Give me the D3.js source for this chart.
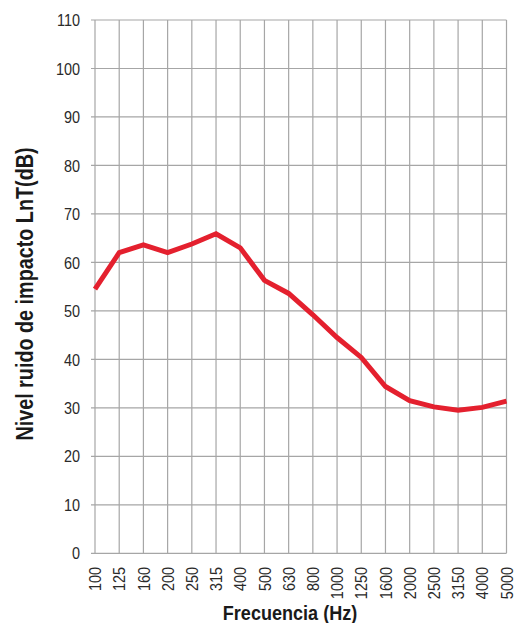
<!DOCTYPE html>
<html><head><meta charset="utf-8">
<script src="https://cdn.jsdelivr.net/npm/d3@7/dist/d3.min.js"></script>
<style>body{margin:0;background:#fff}svg{display:block}</style>
</head><body>
<svg id="c" width="515" height="623"></svg>
<script>
const frequencies = ["100","125","160","200","250","315","400","500","630","800","1000","1250","1600","2000","2500","3150","4000","5000"];
const lnT = [54.5,62,63.6,62,63.8,65.9,63,56.3,53.6,49.2,44.5,40.4,34.4,31.5,30.2,29.5,30.1,31.4];
const yTicks = [0,10,20,30,40,50,60,70,80,90,100,110];
const xTitle = "Frecuencia (Hz)";
const yTitle = "Nivel ruido de impacto LnT(dB)";

const font = "'Liberation Sans','Arial',sans-serif";
const svg = d3.select("#c");
const L = 95, R = 506.5, T = 20, B = 553.3;
const x = d3.scalePoint().domain(frequencies).range([L, R]);
const y = d3.scaleLinear().domain([0, 110]).range([B, T]);

// grid
svg.append("g").selectAll("line").data(yTicks).join("line")
  .attr("x1", L - 4).attr("x2", R).attr("y1", d => y(d)).attr("y2", d => y(d))
  .attr("stroke", "#a6a6a6").attr("stroke-width", 1.2);
svg.append("g").selectAll("line").data(frequencies).join("line")
  .attr("x1", d => x(d)).attr("x2", d => x(d)).attr("y1", T).attr("y2", B)
  .attr("stroke", "#a6a6a6").attr("stroke-width", 1.2);

// y labels
svg.append("g").selectAll("text").data(yTicks).join("text")
  .attr("transform", d => `translate(80,${y(d)}) scale(0.85,1)`)
  .attr("dy", "0.36em")
  .attr("text-anchor", "end").attr("font-family", font).attr("font-size", 17)
  .attr("fill", "#2a2a2a").text(d => d);

// x labels
svg.append("g").selectAll("text").data(frequencies).join("text")
  .attr("transform", d => `translate(${x(d)},567) rotate(-90) scale(0.85,1)`)
  .attr("dy", "0.36em").attr("text-anchor", "end")
  .attr("font-family", font).attr("font-size", 17).attr("fill", "#2a2a2a").text(d => d);

// line
svg.append("path").datum(lnT)
  .attr("d", d3.line().x((d, i) => x(frequencies[i])).y(d => y(d)))
  .attr("fill", "none").attr("stroke", "#e4202e").attr("stroke-width", 5)
  .attr("stroke-linejoin", "miter");

// titles
svg.append("text").attr("transform", "translate(290,620) scale(0.86,1)")
  .attr("text-anchor", "middle")
  .attr("font-family", font).attr("font-weight", "bold").attr("font-size", 21)
  .attr("fill", "#1a1a1a").text(xTitle);
svg.append("text").attr("transform", "translate(33,294) rotate(-90) scale(0.86,1)")
  .attr("text-anchor", "middle").attr("font-family", font).attr("font-weight", "bold")
  .attr("font-size", 23).attr("fill", "#1a1a1a").text(yTitle);
</script>
</body></html>
